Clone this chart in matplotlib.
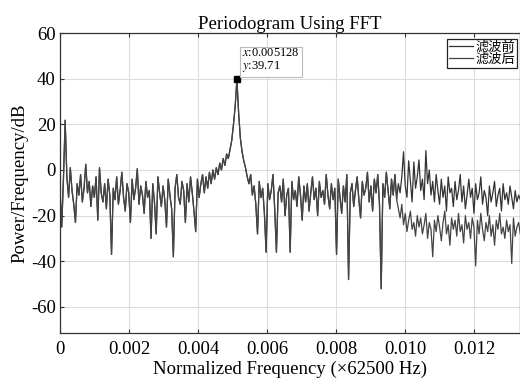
import numpy as np
import matplotlib
matplotlib.use('Agg')
import matplotlib.pyplot as plt

plt.rcParams['font.family'] = ['Liberation Serif', 'Noto Sans CJK SC', 'DejaVu Sans']
plt.rcParams['mathtext.fontset'] = 'stix'
plt.rcParams['axes.unicode_minus'] = False

# periodogram values (dB), one per frequency bin
peak_f = 0.005128
peak_db = 39.71
before_db = [
    -8, -25, -4, 21.8, -3, -12, 1, -9, -15, -23,
    -6, -11, -2, -14, -8, 2.5, -10, -5, -16, -7,
    -12, -3, -22, 1, -10, -14, -6, -17, -4, -11,
    -37, -8, -13, -3, -15, -9, -1, -12, -18, -6,
    -10, -23, -4, -13, -8, 0.5, -15, -7, -11, -19,
    -5, -12, -9, -30, -6, -14, -28, -3, -10, -16,
    -7, -13, -25, -4, -11, -17, -38, -8, -2, -12,
    -15, -5, -9, -23, -6, -14, -3, -10, -18, -27,
    -4, -12, -6, -2, -10, -3, -8, -1, -6, 0,
    -4, 1, -2, 3, 0, 5, 2, 7, 5, 9,
    13, 20, 28, 39.71, 25, 14, 8, 4, 1, -3,
    -6, -2, -11, -7, -15, -28, -5, -12, -8, -19,
    -36, -6, -13, -9, -2, -17, -36, -10, -7, -14,
    -4, -20, -11, -8, -36, -5, -13, -9, -16, -3,
    -11, -22, -7, -14, -6, -18, -10, -3, -13, -8,
    -20, -5, -12, -9, -15, -2, -11, -17, -6, -13,
    -8, -37, -4, -12, -19, -7, -14, -2, -48, -10,
    -6, -16, -9, -3, -13, -21, -5, -11, -8, -1,
    -14, -7, -18, -4, -10, -2, -15, -52, -6, -12,
    -1, -9, -17, -4, -11, -2, -13, -6, -10, -3,
    8, -7, -12, 4, -5, -14, 3.5, -8, -3, 4.4,
    -9, -4, -13, 8.5, -6, 0, -11, -5, -14, -2,
    -9, -15, -4, -12, -7, -18, -3, -10, -8, -16,
    -5, -13, -9, -2, -14, -7, -17, -11, -4, -12,
    -8, -19, -6, -13, -10, -3, -15, -9, -12, -20,
    -7, -14, -10, -5, -16, -11, -8, -18, -6, -13,
    -10, -15, -7, -12, -17, -9, -14, -11, -13,
]
# filtered signal: same as before up to bin 196, then attenuated
split_bin = 196
after_tail_db = [
    -13, -17, -21, -15,
    -24, -19, -27, -22, -18, -26, -23, -29, -20, -25,
    -21, -28, -24, -19, -30, -23, -26, -38, -22, -27,
    -20, -25, -31, -23, -18, -28, -24, -33, -21, -26,
    -22, -29, -19, -27, -24, -32, -20, -26, -23, -30,
    -21, -25, -42, -22, -28, -19, -26, -31, -23, -27,
    -20, -29, -24, -33, -22, -26, -19, -28, -25, -30,
    -22, -27, -24, -41, -21, -29, -25, -23, -28,
]
after_db = before_db[:split_bin] + after_tail_db

# bin spacing chosen so that bin 103 is the marked peak
df_bin = peak_f / 103
freq = np.arange(len(before_db)) * df_bin

xticks = [0, 0.002, 0.004, 0.006, 0.008, 0.010, 0.012]
xticklabels = ['0', '0.002', '0.004', '0.006', '0.008', '0.010', '0.012']
yticks = [-60, -40, -20, 0, 20, 40, 60]

fig = plt.figure(figsize=(5.2, 3.79), dpi=100)
ax = fig.add_axes([60 / 520, 1 - 333 / 379, 1 - 60 / 520, 300 / 379])

ax.plot(freq, before_db, color='#333333', lw=0.9, label='滤波前')
ax.plot(freq, after_db, color='#444444', lw=0.9, label='滤波后')
ax.plot([peak_f], [peak_db], 's', color='black', ms=4.5)

ax.set_xlim(0, 460 / 34500)
ax.set_ylim(-71.4, 60)
ax.set_xticks(xticks)
ax.set_xticklabels(xticklabels)
ax.set_yticks(yticks)
ax.grid(True, color='#dcdcdc', lw=0.8)
ax.set_axisbelow(True)
ax.tick_params(direction='in', length=3, width=0.8, color='#333333',
               labelsize=13.5, top=True, pad=6)
ax.tick_params(axis='y', pad=3)
for sp in ax.spines.values():
    sp.set_color('#333333')
    sp.set_linewidth(0.9)

ax.set_title('Periodogram Using FFT', fontsize=13.5, pad=3)
ax.set_xlabel('Normalized Frequency (×62500 Hz)', fontsize=13.5, labelpad=2)
ax.set_ylabel('Power/Frequency/dB', fontsize=13.5, labelpad=2)

ax.annotate('$x$:0.005128\n$y$:39.71', xy=(peak_f, peak_db),
            xytext=(242 / 520, 1 - 61 / 379), textcoords='figure fraction',
            fontsize=9, va='center', ha='left', linespacing=1.0,
            bbox=dict(boxstyle='square,pad=0.2', fc='white', ec='#bbbbbb', lw=0.8))

leg = ax.legend(loc='upper left', bbox_to_anchor=((447 - 60) / 460, (333 - 39) / 300),
                fontsize=9.5, frameon=True, fancybox=False, framealpha=1,
                edgecolor='#222222', labelspacing=0.0, borderpad=0.15,
                handlelength=1.8, handletextpad=0.2, borderaxespad=0)
leg.get_frame().set_linewidth(0.9)

fig.savefig('out.png', dpi=100)
